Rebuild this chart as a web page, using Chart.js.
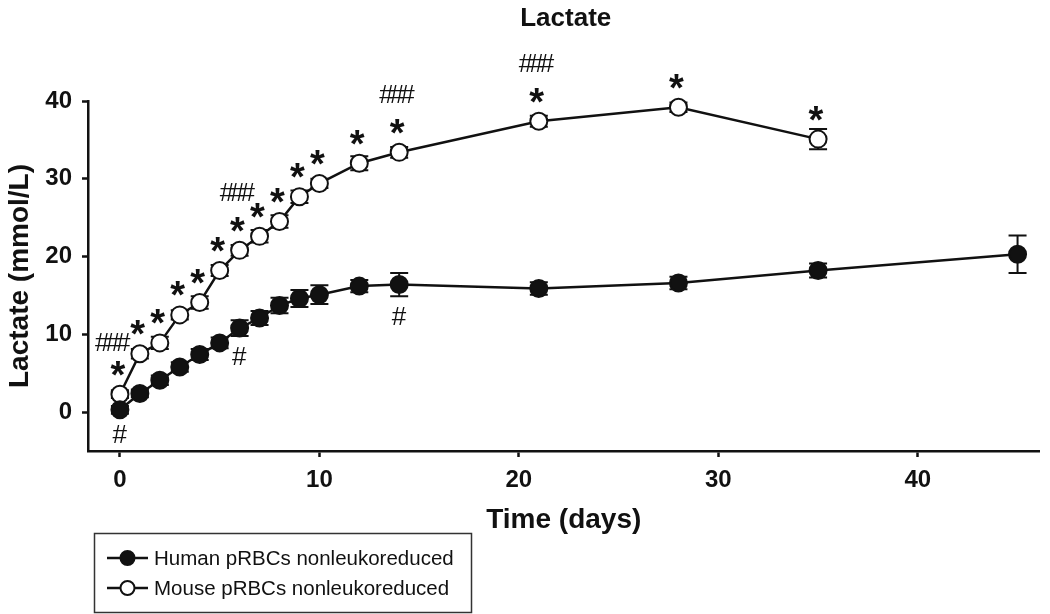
<!DOCTYPE html>
<html>
<head>
<meta charset="utf-8">
<title>Lactate</title>
<script src="https://cdn.jsdelivr.net/npm/chart.js@4.4.1/dist/chart.umd.min.js"></script>
<style>
  html, body { margin: 0; padding: 0; background: #fff; }
  #wrap { width: 1050px; height: 614px; }
</style>
</head>
<body>
<div id="wrap"><canvas id="lactate-graph"></canvas></div>
<script>
// Values (days, mmol/L, SEM)
const humanDays = [0, 1, 2, 3, 4, 5, 6, 7, 8, 9, 10, 12, 14, 21, 28, 35, 45];
const humanLactate = [0.3, 2.4, 4.1, 5.8, 7.4, 8.9, 10.8, 12.1, 13.7, 14.6, 15.1, 16.2, 16.4, 15.9, 16.6, 18.2, 20.3];
const humanSem = [0.5, 0.5, 0.6, 0.6, 0.7, 0.7, 1.0, 0.9, 1.0, 1.1, 1.2, 0.8, 1.5, 0.8, 0.8, 0.9, 2.4];

const mouseDays = [0, 1, 2, 3, 4, 5, 6, 7, 8, 9, 10, 12, 14, 21, 28, 35];
const mouseLactate = [2.3, 7.5, 8.9, 12.5, 14.1, 18.2, 20.8, 22.6, 24.5, 27.7, 29.4, 32.0, 33.4, 37.4, 39.2, 35.1];
const mouseSem = [0.5, 0.6, 0.8, 0.6, 0.8, 0.7, 0.7, 0.8, 0.8, 0.8, 0.6, 0.9, 0.7, 0.7, 0.6, 1.3];

// significance marks
const mouseStarDays = [0, 1, 2, 3, 4, 5, 6, 7, 8, 9, 10, 12, 14, 21, 28, 35];
const mouseHashDays = [0, 6, 14, 21];
const humanHashDays = [0, 6, 14];

const xTicks = [0, 10, 20, 30, 40];
const yTicks = [0, 10, 20, 30, 40];

const seriesNames = ["Human pRBCs nonleukoreduced", "Mouse pRBCs nonleukoreduced"];

const FONT = '"Liberation Sans", Arial, Helvetica, sans-serif';
Chart.defaults.font.family = FONT;
Chart.defaults.color = '#111';

// text centred on its ink box
function drawInk(ctx, text, x, y) {
  const m = ctx.measureText(text);
  const w = m.actualBoundingBoxRight - m.actualBoundingBoxLeft;
  const h = m.actualBoundingBoxAscent + m.actualBoundingBoxDescent;
  ctx.fillText(text, x - w / 2 + m.actualBoundingBoxLeft, y - h / 2 + m.actualBoundingBoxAscent);
}

const errorBars = {
  id: 'errorBars',
  beforeDatasetsDraw(chart) {
    const { ctx, scales: { x, y } } = chart;
    ctx.save();
    ctx.strokeStyle = '#111';
    ctx.lineWidth = 2;
    chart.data.datasets.forEach((ds) => {
      ds.data.forEach((p, i) => {
        const px = x.getPixelForValue(p.x);
        const top = y.getPixelForValue(p.y + ds.sem[i]);
        const bot = y.getPixelForValue(p.y - ds.sem[i]);
        ctx.beginPath();
        ctx.moveTo(px, top); ctx.lineTo(px, bot);
        ctx.moveTo(px - 9, top); ctx.lineTo(px + 9, top);
        ctx.moveTo(px - 9, bot); ctx.lineTo(px + 9, bot);
        ctx.stroke();
      });
    });
    ctx.restore();
  }
};

const marks = {
  id: 'marks',
  afterDatasetsDraw(chart) {
    const { ctx, scales: { x, y } } = chart;
    const human = chart.data.datasets[0];
    const mouse = chart.data.datasets[1];
    ctx.save();
    ctx.fillStyle = '#111';

    mouseStarDays.forEach((d) => {
      const i = mouseDays.indexOf(d);
      const px = x.getPixelForValue(d) - 2;
      const py = y.getPixelForValue(mouseLactate[i]);
      const errTop = y.getPixelForValue(mouseLactate[i] + mouse.sem[i]);
      const starY = Math.min(py - 26, errTop - 14);
      ctx.font = 'bold 38px ' + FONT;
      drawInk(ctx, '*', px, starY);
      if (mouseHashDays.includes(d)) {
        ctx.font = '26px ' + FONT;
        ctx.letterSpacing = '-4px';
        drawInk(ctx, '###', d === 0 ? px - 5 : px, starY - (d === 0 ? 26 : 32));
        ctx.letterSpacing = '0px';
      }
    });

    humanHashDays.forEach((d) => {
      const i = humanDays.indexOf(d);
      const px = x.getPixelForValue(d);
      const py = y.getPixelForValue(humanLactate[i]);
      const errBot = y.getPixelForValue(humanLactate[i] - human.sem[i]);
      ctx.font = '26px ' + FONT;
      drawInk(ctx, '#', px, Math.max(py + 23, errBot + 20));
    });
    ctx.restore();
  }
};

const titleAndLegend = {
  id: 'titleAndLegend',
  afterDraw(chart) {
    const { ctx, chartArea } = chart;
    ctx.save();
    ctx.fillStyle = '#111';
    ctx.font = 'bold 26px ' + FONT;
    ctx.textAlign = 'center';
    ctx.textBaseline = 'middle';
    ctx.fillText('Lactate', (chartArea.left + chartArea.right) / 2 + 2, 19);

    // legend box
    ctx.strokeStyle = '#333';
    ctx.lineWidth = 1.5;
    ctx.strokeRect(94.5, 533.5, 377, 79);
    ctx.font = '20.5px ' + FONT;
    ctx.textAlign = 'left';
    chart.data.datasets.forEach((ds, k) => {
      const cy = 558 + k * 30;
      ctx.strokeStyle = '#111';
      ctx.lineWidth = 2.5;
      ctx.beginPath();
      ctx.moveTo(107, cy); ctx.lineTo(148, cy);
      ctx.stroke();
      ctx.beginPath();
      ctx.arc(127.5, cy, 7, 0, Math.PI * 2);
      ctx.fillStyle = ds.pointBackgroundColor;
      ctx.fill();
      ctx.lineWidth = 2;
      ctx.stroke();
      ctx.fillStyle = '#111';
      ctx.fillText(seriesNames[k], 154, cy + 1);
    });
    ctx.restore();
  }
};

const toPoints = (xs, ys) => xs.map((d, i) => ({ x: d, y: ys[i] }));

new Chart(document.getElementById('lactate-graph'), {
  type: 'line',
  data: {
    datasets: [{
      label: seriesNames[0],
      data: toPoints(humanDays, humanLactate),
      sem: humanSem,
      borderColor: '#111',
      borderWidth: 2.5,
      pointRadius: 8.5,
      pointBorderWidth: 2,
      pointBackgroundColor: '#111',
      pointBorderColor: '#111',
      tension: 0,
      clip: false
    }, {
      label: seriesNames[1],
      data: toPoints(mouseDays, mouseLactate),
      sem: mouseSem,
      borderColor: '#111',
      borderWidth: 2.5,
      pointRadius: 8.5,
      pointBorderWidth: 2,
      pointBackgroundColor: '#fff',
      pointBorderColor: '#111',
      tension: 0,
      clip: false
    }]
  },
  options: {
    responsive: true,
    maintainAspectRatio: false,
    animation: false,
    layout: { padding: { top: 101, left: 0, right: 0, bottom: 77 } },
    plugins: {
      legend: { display: false },
      tooltip: { enabled: false }
    },
    scales: {
      x: {
        type: 'linear',
        min: -1.6,
        max: 46.1,
        afterBuildTicks: (s) => { s.ticks = xTicks.map((v) => ({ value: v })); },
        afterFit: (s) => { s.height = 86; },
        border: { display: true, color: '#111', width: 2.5 },
        grid: { display: true, drawOnChartArea: false, drawTicks: true, tickLength: 6, tickColor: '#111', tickWidth: 2.5 },
        ticks: { padding: 9, color: '#111', font: { size: 24, weight: 'bold' } },
        title: { display: true, text: 'Time (days)', color: '#111', padding: { top: 0, bottom: 0 }, font: { size: 28, weight: 'bold' } }
      },
      y: {
        min: -5,
        max: 40,
        afterBuildTicks: (s) => { s.ticks = yTicks.map((v) => ({ value: v })); },
        afterFit: (s) => { s.width = 88; },
        border: { display: true, color: '#111', width: 2.5 },
        grid: { display: true, drawOnChartArea: false, drawTicks: true, tickLength: 6, tickColor: '#111', tickWidth: 2.5 },
        ticks: { padding: 10, color: '#111', font: { size: 24, weight: 'bold' } },
        title: { display: true, text: 'Lactate (mmol/L)', color: '#111', padding: { top: 3, bottom: 0 }, font: { size: 28, weight: 'bold' } }
      }
    }
  },
  plugins: [errorBars, marks, titleAndLegend]
});
</script>
</body>
</html>
